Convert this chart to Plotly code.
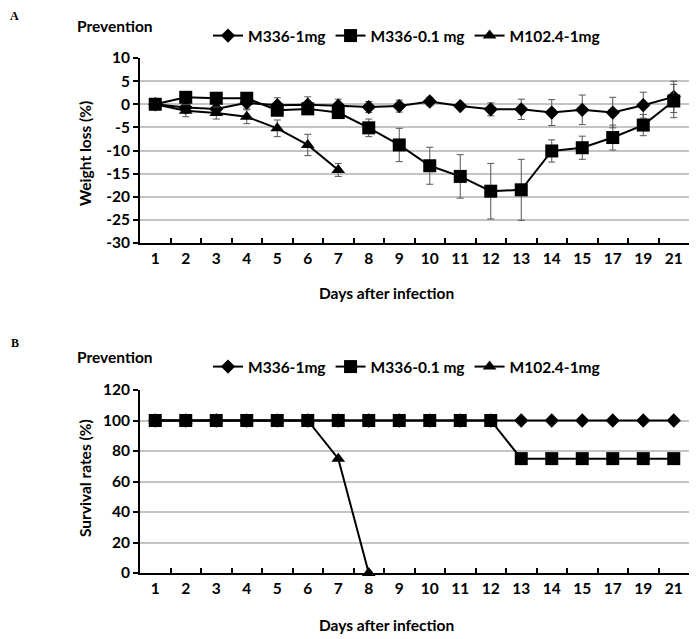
import plotly.graph_objects as go

days = ["1", "2", "3", "4", "5", "6", "7", "8", "9", "10", "11", "12", "13", "14", "15", "17", "19", "21"]
days_m102 = ["1", "2", "3", "4", "5", "6", "7"]
days_m102_surv = ["1", "2", "3", "4", "5", "6", "7", "8"]

# Weight loss (%)
w_m336_1 = [0.0, -0.7, -1.0, 0.3, -0.2, -0.1, -0.3, -0.6, -0.4, 0.6, -0.4, -1.1, -1.1, -1.8, -1.2, -1.8, -0.2, 1.6]
w_m336_1_err = [0.5, 1.2, 1.3, 1.3, 1.6, 1.7, 1.4, 1.2, 1.3, 0.9, 0.5, 1.4, 2.2, 2.8, 3.2, 3.3, 2.8, 3.4]
w_m336_01 = [0.0, 1.5, 1.3, 1.3, -1.3, -1.0, -1.8, -5.1, -8.8, -13.3, -15.6, -18.8, -18.5, -10.1, -9.4, -7.2, -4.5, 0.7]
w_m336_01_err = [0.4, 0.5, 0.5, 0.5, 1.0, 1.0, 1.0, 1.9, 3.6, 4.0, 4.7, 6.0, 6.6, 2.4, 2.5, 2.7, 2.3, 3.6]
w_m102 = [0.0, -1.4, -1.9, -2.7, -5.2, -8.8, -14.2]
w_m102_err = [0.4, 1.3, 1.3, 1.5, 1.8, 2.3, 1.4]
w_ticks = [10, 5, 0, -5, -10, -15, -20, -25, -30]
w_ticklabels = ["10", "5", "0", "-5", "-10", "-15", "-20", "-25", "-30"]

# Survival rates (%)
s_m336_1 = [100] * 18
s_m336_01 = [100, 100, 100, 100, 100, 100, 100, 100, 100, 100, 100, 100, 75, 75, 75, 75, 75, 75]
s_m102 = [100, 100, 100, 100, 100, 100, 75, 0]
s_ticks = [0, 20, 40, 60, 80, 100, 120]

names = ["M336-1mg", "M336-0.1 mg", "M102.4-1mg"]

FONT = "Lato"
FS = 15.5
OFF = 8  # page body margin
W, H = 700 - OFF, 639 - OFF
BLACK = "#000000"
ERRC = "#555555"

def py(p):
    return 1 - (p - OFF) / H

def px(p):
    return (p - OFF) / W

fig = go.Figure()

def err(vals):
    return dict(type="data", array=vals, visible=True, color=ERRC, thickness=1, width=3.5)

SYM = [dict(symbol="diamond", size=11), dict(symbol="square", size=13), dict(symbol="triangle-up", size=12)]

# Top chart
for nm, xs, ys, es, sym in [(names[0], days, w_m336_1, w_m336_1_err, SYM[0]),
                            (names[1], days, w_m336_01, w_m336_01_err, SYM[1]),
                            (names[2], days_m102, w_m102, w_m102_err, SYM[2])]:
    fig.add_trace(go.Scatter(x=xs, y=ys, error_y=err(es), name=nm,
                             mode="lines+markers", line=dict(color=BLACK, width=2),
                             marker=dict(color=BLACK, **sym),
                             xaxis="x", yaxis="y", legend="legend", cliponaxis=False))

# Bottom chart
for nm, xs, ys, sym in [(names[0], days, s_m336_1, SYM[0]),
                        (names[1], days, s_m336_01, SYM[1]),
                        (names[2], days_m102_surv, s_m102, SYM[2])]:
    fig.add_trace(go.Scatter(x=xs, y=ys, name=nm,
                             mode="lines+markers", line=dict(color=BLACK, width=2),
                             marker=dict(color=BLACK, **sym),
                             xaxis="x2", yaxis="y2", legend="legend2", cliponaxis=False))

tickfont = dict(family=FONT, size=FS, color=BLACK, weight="bold")

xcommon = dict(type="category", categoryorder="array", categoryarray=days,
               range=[-0.5, len(days) - 0.5], showgrid=False, showline=True,
               linecolor=BLACK, linewidth=2, ticks="inside", ticklen=5,
               tickwidth=1.5, tickcolor=BLACK, tickson="boundaries",
               tickfont=tickfont, zeroline=False, domain=[px(140), px(689)])
ycommon = dict(showgrid=True, gridcolor="#c4c4c4", gridwidth=1.5, showline=True,
               linecolor=BLACK, linewidth=2, ticks="outside", ticklen=5,
               tickwidth=1.5, tickcolor=BLACK, tickfont=tickfont, zeroline=False)

legfont = dict(family=FONT, size=FS, color=BLACK, weight="bold")

fig.update_layout(
    width=W, height=H,
    margin=dict(l=0, r=0, t=0, b=0, autoexpand=False),
    paper_bgcolor="white", plot_bgcolor="white",
    font=dict(family=FONT, color=BLACK),
    xaxis=dict(**xcommon, anchor="y"),
    yaxis=dict(**ycommon, anchor="x", range=[-30, 10], tickmode="array",
               tickvals=w_ticks, ticktext=w_ticklabels,
               domain=[py(243), py(58)]),
    xaxis2=dict(**xcommon, anchor="y2"),
    yaxis2=dict(**ycommon, anchor="x2", range=[0, 120], tickmode="array",
                tickvals=s_ticks, domain=[py(573), py(390)]),
    legend=dict(orientation="h", x=px(208), y=py(36), xanchor="left", yanchor="middle",
                font=legfont, bgcolor="rgba(0,0,0,0)", itemwidth=30, tracegroupgap=0),
    legend2=dict(orientation="h", x=px(208), y=py(367), xanchor="left", yanchor="middle",
                 font=legfont, bgcolor="rgba(0,0,0,0)", itemwidth=30, tracegroupgap=0),
    showlegend=True,
)

ann_font = dict(family=FONT, size=FS, color=BLACK, weight="bold")
annotations = [
    dict(text="A", x=px(9), y=py(8), xanchor="left", yanchor="top", borderpad=0,
         font=dict(family="Liberation Serif", size=12, color=BLACK, weight="bold")),
    dict(text="B", x=px(9), y=py(343), xanchor="left", yanchor="middle",
         font=dict(family="Liberation Serif", size=12, color=BLACK, weight="bold")),
    dict(text="Prevention", x=px(75), y=py(26), xanchor="left", yanchor="middle", font=ann_font),
    dict(text="Prevention", x=px(75), y=py(357), xanchor="left", yanchor="middle", font=ann_font),
    dict(text="Days after infection", x=px(386), y=py(293), xanchor="center", yanchor="middle", font=ann_font),
    dict(text="Days after infection", x=px(386), y=py(625), xanchor="center", yanchor="middle", font=ann_font),
    dict(text="Weight loss (%)", x=px(85), y=py(154), xanchor="center", yanchor="middle",
         textangle=-90, font=ann_font),
    dict(text="Survival rates (%)", x=px(85), y=py(478), xanchor="center", yanchor="middle",
         textangle=-90, font=ann_font),
]
for a in annotations:
    a.update(xref="paper", yref="paper", showarrow=False)
fig.update_layout(annotations=annotations)

fig.write_html("out.html")
